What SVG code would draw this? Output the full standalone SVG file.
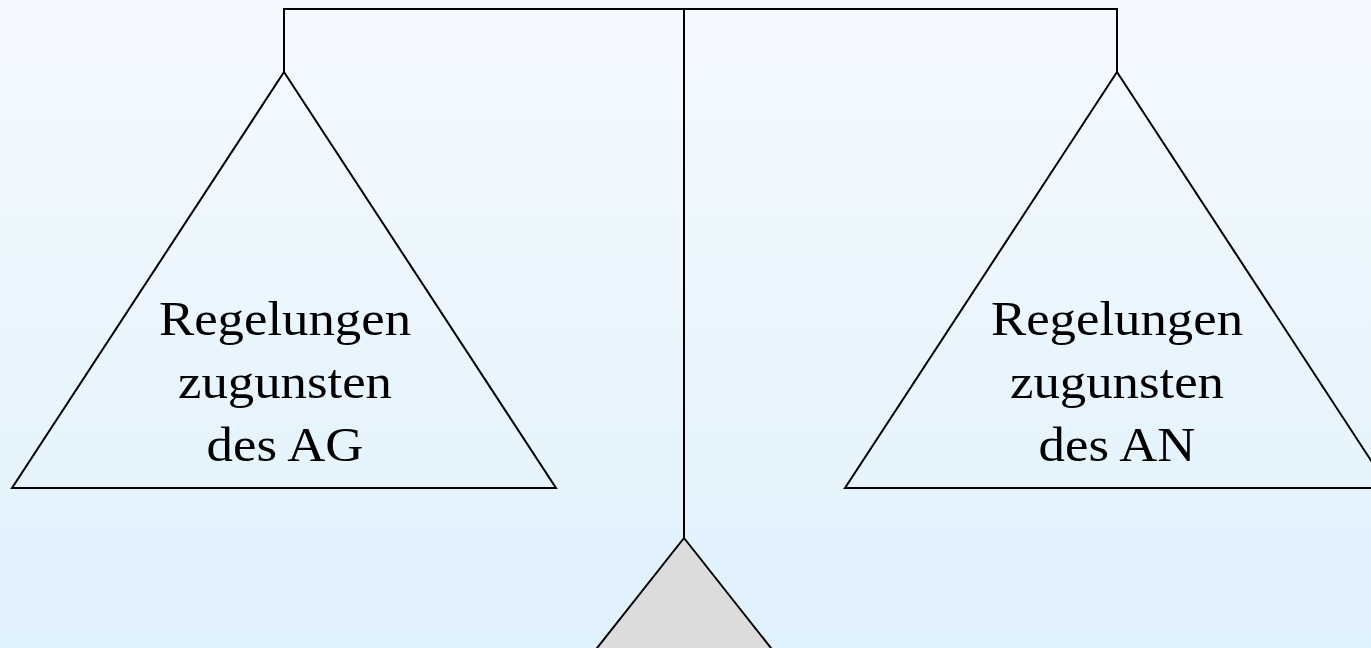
<svg xmlns="http://www.w3.org/2000/svg" width="1371" height="648" viewBox="0 0 1371 648">
<defs>
<linearGradient id="bg" x1="0" y1="0" x2="0" y2="1">
<stop offset="0" stop-color="#f5faff"/>
<stop offset="1" stop-color="#dff1fc"/>
</linearGradient>
<style>
.ln{fill:none;stroke:#000;stroke-width:2}
.pan{fill:none;stroke:#000;stroke-width:2;stroke-linejoin:miter}
.txt{font-family:"Liberation Serif","Times New Roman",serif;font-size:48px;fill:#000;text-anchor:middle}
</style>
</defs>
<rect width="1371" height="648" fill="url(#bg)"/>
<g id="connectors">
<polyline class="ln" points="284,72 284,9 1117,9 1117,72"/>
<line class="ln" x1="684" y1="9" x2="684" y2="538"/>
</g>
<g id="pan-left">
<polygon class="pan" points="284,72 12,488 556,488"/>
<g transform="translate(285,0) scale(1.1,1)">
<text class="txt" x="0" y="335">Regelungen</text>
<text class="txt" x="0" y="398">zugunsten</text>
<text class="txt" x="0" y="461">des AG</text>
</g>
</g>
<g id="pan-right">
<polygon class="pan" points="1117,72 845,488 1389,488"/>
<g transform="translate(1117,0) scale(1.1,1)">
<text class="txt" x="0" y="335">Regelungen</text>
<text class="txt" x="0" y="398">zugunsten</text>
<text class="txt" x="0" y="461">des AN</text>
</g>
</g>
<g id="fulcrum">
<polygon points="684,538 571,681 797,681" fill="#dcdcdc" stroke="#000" stroke-width="2"/>
</g>
</svg>
